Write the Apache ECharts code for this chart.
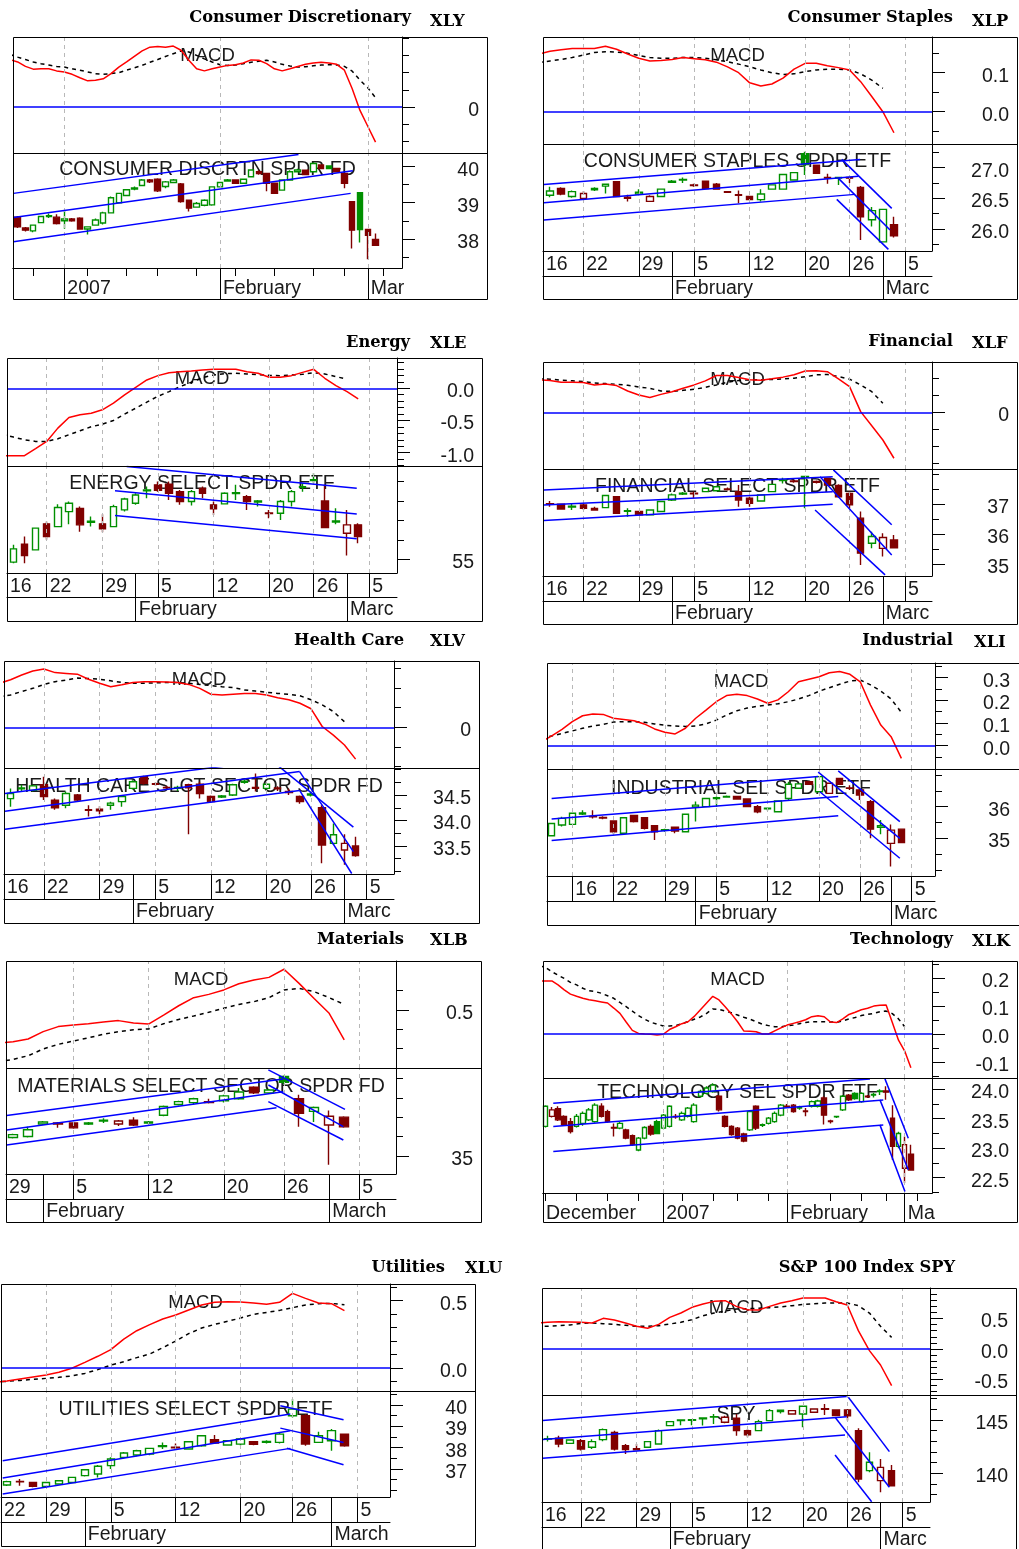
<!DOCTYPE html>
<html><head><meta charset="utf-8">
<script src="https://cdn.jsdelivr.net/npm/echarts@6/dist/echarts.min.js"></script>
<style>html,body{margin:0;padding:0;background:#fff}#c{width:1019px;height:1549px}</style>
</head><body><div id="c"></div>
<script>
// ---------- trading-day categories ----------
const DATES = ['11/27','11/28','11/29','11/30','12/1','12/4','12/5','12/6','12/7','12/8','12/11','12/12','12/13','12/14','12/15','12/18','12/19','12/20','12/21','12/22','12/26','12/27','12/28','12/29','1/3','1/4','1/5','1/8','1/9','1/10','1/11','1/12','1/16','1/17','1/18','1/19','1/22','1/23','1/24','1/25','1/26','1/29','1/30','1/31','2/1','2/2','2/5','2/6','2/7','2/8','2/9','2/12','2/13','2/14','2/15','2/16','2/20','2/21','2/22','2/23','2/26','2/27','2/28','3/1','3/2','3/5','3/6','3/7','3/8','3/9'];
const MONTH_NAMES = {12:'December', 1:'2007', 2:'February', 3:'March'};
const DAY_TICKS = ['1/16','1/22','1/29','2/5','2/12','2/20','2/26','3/5'];
const MONTH_TICKS = ['2/1','3/1'];
const XLY_WEEK_TICKS = ['12/26','1/8','1/16','1/22','1/29','2/5','2/12','2/20','2/26','3/5'];
const XLY_MONTH_TICKS = ['1/3','2/1','3/1'];
const XLK_WEEK_TICKS = ['12/4','12/11','12/18','12/26','1/8','1/16','1/22','1/29','2/12','2/20','2/26','3/5'];
const XLK_MONTH_TICKS = ['12/1','1/3','2/1','3/1'];

// ---------- XLY ----------
const XLY_FIRST = '12/21', XLY_LINE_FIRST = '12/20';
const XLY_CANDLES = [[38.60,38.33,38.30,38.63],[38.30,38.24,38.20,38.33],[38.22,38.38,38.18,38.40],[38.45,38.62,38.43,38.64],[38.64,38.62,38.58,38.70],[38.60,38.42,38.40,38.68],[38.50,38.55,38.28,38.80],[38.55,38.50,38.47,38.58],[38.57,38.27,38.25,38.60],[38.27,38.33,38.12,38.35],[38.38,38.52,38.36,38.56],[38.44,38.72,38.40,38.75],[38.72,39.14,38.70,39.17],[39.00,39.26,38.98,39.28],[39.20,39.36,39.18,39.38],[39.38,39.41,39.35,39.45],[39.48,39.63,39.46,39.66],[39.63,39.58,39.55,39.66],[39.65,39.33,39.30,39.68],[39.45,39.58,39.40,39.60],[39.56,39.63,39.55,39.66],[39.52,39.03,39.00,39.55],[39.07,38.85,38.76,39.09],[38.88,38.98,38.86,39.02],[38.93,39.07,38.90,39.10],[38.94,39.44,38.92,39.46],[39.44,39.56,39.42,39.58],[39.60,39.63,39.58,39.66],[39.63,39.54,39.52,39.65],[39.54,39.65,39.52,39.67],[39.72,39.91,39.70,39.93],[39.86,39.81,39.78,39.90],[39.81,39.54,39.32,39.83],[39.54,39.26,39.24,39.56],[39.35,39.63,39.33,39.65],[39.63,39.86,39.61,39.90],[39.86,39.91,39.84,39.94],[39.90,39.78,39.76,39.92],[39.86,40.09,39.84,40.12],[40.05,39.95,39.93,40.07],[40.02,39.95,39.93,40.04],[39.95,39.86,39.84,39.97],[39.81,39.54,39.40,39.83],[39.03,38.24,37.73,39.05],[39.28,38.26,37.90,39.30],[38.26,38.10,37.43,38.28],[37.98,37.82,37.80,38.15]];
const XLY_MACD = [0.138,0.131,0.118,0.110,0.111,0.111,0.105,0.102,0.095,0.085,0.076,0.078,0.082,0.097,0.116,0.131,0.147,0.163,0.174,0.176,0.174,0.177,0.165,0.136,0.111,0.105,0.111,0.116,0.121,0.123,0.128,0.137,0.136,0.126,0.111,0.105,0.111,0.118,0.124,0.128,0.130,0.128,0.124,0.107,0.053,-0.010,-0.056,-0.102];
const XLY_SIGNAL = [0.153,0.145,0.138,0.131,0.126,0.122,0.118,0.116,0.111,0.107,0.102,0.097,0.095,0.097,0.100,0.107,0.114,0.121,0.130,0.138,0.147,0.155,0.163,0.160,0.150,0.140,0.131,0.123,0.121,0.122,0.126,0.130,0.133,0.136,0.131,0.124,0.119,0.116,0.117,0.120,0.122,0.123,0.122,0.118,0.104,0.078,0.056,0.027];
const XLY_CHANNELS = [[17.45,39.26,54.1,40.34],[17.45,38.59,61.07,39.89],[17.45,37.92,60.8,39.26]];
const XLY_MACD_TICKS = [0], XLY_MACD_MINOR = [-0.1,-0.05,0.05,0.1,0.15,0.2];
const XLY_PRICE_TICKS = [38,39,40], XLY_PRICE_MINOR = [37.5,38.5,39.5];

// ---------- XLP ----------
const XLP_FIRST = '1/17', XLP_LINE_FIRST = '1/16';
const XLP_CANDLES = [[26.55,26.62,26.52,26.69],[26.66,26.57,26.55,26.68],[26.53,26.61,26.51,26.63],[26.50,26.58,26.48,26.62],[26.64,26.66,26.62,26.68],[26.70,26.73,26.58,26.74],[26.77,26.53,26.52,26.78],[26.52,26.50,26.45,26.56],[26.57,26.60,26.55,26.65],[26.45,26.53,26.44,26.55],[26.53,26.65,26.52,26.66],[26.76,26.78,26.75,26.80],[26.80,26.81,26.75,26.84],[26.72,26.71,26.69,26.74],[26.78,26.66,26.65,26.79],[26.73,26.65,26.64,26.75],[26.61,26.60,26.59,26.62],[26.56,26.55,26.42,26.63],[26.53,26.48,26.47,26.54],[26.48,26.57,26.45,26.65],[26.65,26.72,26.64,26.73],[26.65,26.89,26.64,26.90],[26.80,26.92,26.79,26.93],[27.23,27.05,26.88,27.26],[27.04,26.91,26.90,27.05],[26.84,26.83,26.74,26.90],[26.83,26.84,26.72,26.85],[26.84,26.83,26.75,26.85],[26.68,26.20,25.82,26.70],[26.15,26.30,26.04,26.36],[25.79,26.32,25.78,26.33],[26.07,25.89,25.86,26.20]];
const XLP_MACD = [0.148,0.155,0.159,0.162,0.162,0.162,0.168,0.160,0.148,0.137,0.130,0.131,0.134,0.139,0.136,0.133,0.127,0.115,0.100,0.074,0.066,0.071,0.086,0.109,0.124,0.124,0.118,0.113,0.107,0.077,0.039,0.000,-0.054];
const XLP_SIGNAL = [0.126,0.130,0.134,0.139,0.145,0.152,0.154,0.153,0.150,0.144,0.139,0.137,0.137,0.139,0.139,0.137,0.133,0.128,0.122,0.115,0.107,0.100,0.095,0.097,0.103,0.107,0.109,0.109,0.107,0.097,0.081,0.060];
const XLP_CHANNELS = [[32.45,26.726,60.95,27.136],[32.45,26.43,60.8,26.86],[32.45,26.145,60.5,26.565],[59.3,27.136,63.8,26.337],[59.0,26.826,63.65,25.984],[58.85,26.484,63.5,25.668]];
const XLP_MACD_TICKS = [0,0.1], XLP_MACD_MINOR = [-0.05,0.05,0.15];
const XLP_PRICE_TICKS = [26,26.5,27], XLP_PRICE_MINOR = [25.75,26.25,26.75,27.25];

// ---------- XLE ----------
const XLE_FIRST = '1/17', XLE_LINE_FIRST = '1/16';
const XLE_CANDLES = [[54.85,55.53,54.79,55.74],[55.77,55.19,54.79,56.17],[55.48,56.60,55.45,56.62],[56.82,56.17,56.00,56.94],[56.68,57.66,56.65,57.83],[57.45,57.88,56.80,57.97],[57.62,56.77,56.42,57.71],[56.90,56.96,56.68,57.20],[56.82,56.56,56.39,57.32],[56.68,57.71,56.65,57.80],[57.54,58.10,57.46,58.17],[57.88,58.31,57.80,58.40],[58.52,58.57,58.14,58.74],[58.83,58.55,58.48,59.00],[58.86,58.40,58.05,59.00],[58.48,57.97,57.80,58.57],[57.97,58.48,57.76,58.57],[58.65,58.40,58.14,58.74],[57.80,57.59,57.28,57.97],[57.85,58.40,57.83,58.45],[58.38,58.43,58.05,58.83],[58.22,57.97,57.54,58.31],[57.95,58.00,57.71,58.05],[57.38,57.35,57.11,57.54],[57.37,57.97,57.02,58.05],[57.97,58.48,57.71,58.57],[58.70,58.74,58.48,58.91],[59.05,59.10,58.91,59.43],[58.00,56.63,56.60,58.83],[56.92,56.97,56.80,57.62],[56.34,56.77,55.19,57.54],[56.77,56.17,55.82,56.85]];
const XLE_MACD = [-1.046,-1.046,-1.046,-0.938,-0.825,-0.619,-0.454,-0.412,-0.387,-0.335,-0.232,-0.103,0.015,0.129,0.196,0.242,0.258,0.268,0.284,0.294,0.294,0.294,0.258,0.232,0.170,0.170,0.196,0.247,0.294,0.155,0.041,-0.052,-0.165];
const XLE_SIGNAL = [-0.72,-0.758,-0.799,-0.825,-0.825,-0.784,-0.722,-0.660,-0.598,-0.557,-0.500,-0.402,-0.309,-0.216,-0.124,-0.052,0.026,0.093,0.165,0.206,0.227,0.232,0.222,0.211,0.201,0.196,0.206,0.216,0.242,0.222,0.180,0.144];
const XLE_CHANNELS = [[43.19,59.77,63.87,58.65],[42.14,58.52,63.87,57.33],[42.14,57.25,63.87,56.05]];
const XLE_MACD_TICKS = [-1,-0.5,0], XLE_MACD_MINOR = [-1.2,-1.1,-0.9,-0.8,-0.7,-0.6,-0.4,-0.3,-0.2,-0.1,0.1,0.2,0.3,0.4];
const XLE_PRICE_TICKS = [55], XLE_PRICE_MINOR = [56,57,58,59];

// ---------- XLF ----------
const XLF_FIRST = '1/17', XLF_LINE_FIRST = '1/16';
const XLF_CANDLES = [[37.01,37.00,36.91,37.10],[36.99,36.83,36.81,37.01],[36.90,36.93,36.80,37.02],[36.97,36.86,36.80,37.02],[36.80,36.85,36.79,36.91],[36.88,37.28,36.86,37.30],[37.24,36.69,36.67,37.26],[36.76,36.78,36.58,36.86],[36.75,36.64,36.62,36.77],[36.64,36.80,36.62,36.82],[36.75,37.08,36.73,37.10],[37.13,37.30,37.10,37.35],[37.33,37.36,37.30,37.40],[37.36,37.34,37.19,37.41],[37.41,37.52,37.40,37.54],[37.44,37.57,37.42,37.60],[37.50,37.48,37.45,37.55],[37.41,37.13,36.91,37.63],[37.19,37.02,36.91,37.24],[37.10,37.30,37.08,37.32],[37.41,37.65,37.39,37.67],[37.78,37.80,37.68,37.87],[37.76,37.74,37.70,37.80],[37.88,37.91,36.86,37.91],[37.75,37.72,37.68,37.78],[37.85,37.63,37.60,37.88],[37.61,37.24,37.21,37.65],[37.35,36.97,36.86,37.41],[36.53,35.37,34.98,36.75],[35.70,35.92,35.53,36.08],[35.53,35.89,35.26,36.03],[35.81,35.55,35.55,35.97]];
const XLF_MACD = [0.096,0.094,0.089,0.089,0.088,0.081,0.084,0.079,0.063,0.051,0.044,0.053,0.061,0.071,0.081,0.093,0.109,0.109,0.103,0.096,0.095,0.099,0.104,0.111,0.122,0.123,0.120,0.099,0.076,0.002,-0.040,-0.082,-0.136];
const XLF_SIGNAL = [0.099,0.098,0.095,0.093,0.091,0.087,0.085,0.083,0.080,0.075,0.071,0.063,0.062,0.065,0.068,0.074,0.081,0.089,0.094,0.096,0.096,0.097,0.099,0.101,0.105,0.111,0.112,0.106,0.098,0.081,0.061,0.027];
const XLF_CHANNELS = [[32.45,37.464,58.48,37.90],[32.45,36.967,58.48,37.408],[32.45,36.45,58.48,36.99],[58.54,38.13,63.8,36.31],[57.34,37.905,63.8,35.31],[56.89,36.80,63.2,34.65]];
const XLF_MACD_TICKS = [0], XLF_MACD_MINOR = [-0.15,-0.1,-0.05,0.05,0.1];
const XLF_PRICE_TICKS = [35,36,37], XLF_PRICE_MINOR = [35.5,36.5,37.5,38];

// ---------- XLV ----------
const XLV_FIRST = '1/17', XLV_LINE_FIRST = '1/16';
const XLV_CANDLES = [[34.43,34.53,34.27,34.63],[34.62,34.64,34.58,34.70],[34.59,34.68,34.57,34.70],[34.70,34.47,34.40,34.86],[34.40,34.25,34.21,34.43],[34.30,34.53,34.24,34.57],[34.50,34.40,34.38,34.52],[34.21,34.20,34.08,34.30],[34.22,34.19,34.12,34.28],[34.30,34.34,34.21,34.37],[34.37,34.47,34.27,34.50],[34.63,34.76,34.61,34.79],[34.86,34.73,34.70,34.88],[34.72,34.71,34.68,34.75],[34.65,34.64,34.61,34.68],[34.63,34.65,34.58,34.68],[34.70,34.64,33.73,34.72],[34.71,34.53,34.43,34.76],[34.47,34.37,34.35,34.49],[34.46,34.48,34.44,34.50],[34.50,34.70,34.48,34.72],[34.75,34.77,34.72,34.80],[34.65,34.63,34.57,34.92],[34.63,34.71,34.61,34.73],[34.64,34.62,34.58,34.67],[34.57,34.55,34.50,34.63],[34.47,34.37,34.33,34.49],[34.50,34.52,34.47,34.56],[34.25,33.52,33.16,34.30],[33.55,33.72,33.52,33.94],[33.42,33.55,33.13,33.73],[33.50,33.31,33.29,33.68]];
const XLV_MACD = [0.112,0.121,0.133,0.143,0.148,0.139,0.137,0.135,0.122,0.112,0.103,0.108,0.114,0.116,0.116,0.115,0.114,0.109,0.099,0.084,0.082,0.084,0.086,0.086,0.082,0.075,0.070,0.061,0.047,0.002,-0.020,-0.045,-0.081];
const XLV_SIGNAL = [0.078,0.082,0.091,0.099,0.109,0.116,0.120,0.125,0.124,0.122,0.118,0.114,0.112,0.112,0.113,0.114,0.114,0.112,0.109,0.106,0.103,0.101,0.095,0.092,0.089,0.086,0.084,0.080,0.070,0.057,0.040,0.014];
const XLV_CHANNELS = [[32.5,34.53,52.36,35.07],[32.5,34.18,58.97,34.96],[32.5,33.83,58.97,34.59],[57.06,35.07,63.8,33.87],[58.97,34.96,63.8,33.39],[58.97,34.59,63.65,32.96]];
const XLV_MACD_TICKS = [0], XLV_MACD_MINOR = [-0.1,-0.05,0.05,0.1,0.15];
const XLV_PRICE_TICKS = [33.5,34,34.5], XLV_PRICE_MINOR = [33,33.25,33.75,34.25,34.75,35];

// ---------- XLI ----------
const XLI_FIRST = '1/11', XLI_LINE_FIRST = '1/10';
const XLI_CANDLES = [[35.08,35.47,35.06,35.49],[35.42,35.63,35.37,35.68],[35.44,35.79,35.42,35.81],[35.77,35.80,35.74,35.89],[35.69,35.68,35.63,35.89],[35.66,35.64,35.60,35.70],[35.55,35.21,35.14,35.57],[35.16,35.65,35.14,35.67],[35.72,35.53,35.50,35.74],[35.65,35.32,35.28,35.67],[35.40,35.21,34.95,35.42],[35.25,35.27,35.21,35.30],[35.35,35.23,35.16,35.37],[35.21,35.76,35.19,35.78],[35.99,36.05,35.53,36.16],[36.00,36.26,35.98,36.28],[36.26,36.28,36.00,36.32],[36.30,36.32,36.28,36.35],[36.32,36.24,36.22,36.34],[36.24,36.00,35.98,36.26],[36.00,35.84,35.79,36.05],[35.93,35.95,35.88,35.97],[35.84,36.18,35.82,36.20],[36.26,36.71,36.21,36.79],[36.58,36.72,36.56,36.73],[36.79,36.71,36.69,36.81],[36.47,36.95,36.45,36.97],[36.42,36.74,36.40,36.76],[36.89,36.71,36.69,36.91],[36.59,36.58,36.53,36.68],[36.53,36.37,36.21,36.58],[36.16,35.29,35.00,36.21],[35.35,35.40,35.13,35.58],[34.84,35.26,34.11,35.44],[35.29,34.87,34.85,35.31]];
const XLI_MACD = [0.018,0.043,0.072,0.106,0.132,0.140,0.138,0.121,0.116,0.110,0.096,0.074,0.059,0.052,0.077,0.121,0.157,0.194,0.221,0.227,0.221,0.206,0.187,0.202,0.238,0.282,0.293,0.304,0.322,0.327,0.315,0.282,0.179,0.091,0.040,-0.056];
const XLI_SIGNAL = [0.032,0.043,0.054,0.065,0.077,0.087,0.094,0.104,0.106,0.106,0.103,0.096,0.090,0.087,0.085,0.087,0.096,0.113,0.135,0.154,0.166,0.174,0.179,0.185,0.194,0.206,0.221,0.240,0.256,0.271,0.285,0.290,0.268,0.241,0.206,0.147];
const XLI_CHANNELS = [[29.99,36.26,55.91,36.95],[29.99,35.61,57.86,36.32],[29.99,34.93,57.86,35.71],[57.86,37.13,63.85,35.53],[55.91,37.09,63.85,35.0],[56.07,36.47,63.85,34.37]];
const XLI_MACD_TICKS = [0,0.1,0.2,0.3], XLI_MACD_MINOR = [-0.05,0.05,0.15,0.25,0.35];
const XLI_PRICE_TICKS = [35,36], XLI_PRICE_MINOR = [34,34.5,35.5,36.5,37];

// ---------- XLB ----------
const XLB_FIRST = '1/30', XLB_LINE_FIRST = '1/29';
const XLB_CANDLES = [[35.19,35.22,35.18,35.23],[35.20,35.27,35.19,35.30],[35.33,35.35,35.32,35.36],[35.34,35.33,35.29,35.35],[35.34,35.29,35.28,35.35],[35.33,35.34,35.32,35.35],[35.36,35.37,35.34,35.39],[35.33,35.36,35.31,35.37],[35.37,35.32,35.31,35.40],[35.34,35.35,35.33,35.36],[35.42,35.51,35.41,35.52],[35.53,35.56,35.52,35.57],[35.55,35.59,35.53,35.60],[35.56,35.55,35.54,35.59],[35.57,35.62,35.55,35.63],[35.59,35.66,35.58,35.70],[35.71,35.65,35.64,35.72],[35.65,35.68,35.64,35.69],[35.82,35.76,35.74,35.83],[35.59,35.44,35.30,35.63],[35.46,35.50,35.35,35.51],[35.32,35.41,34.91,35.47],[35.40,35.30,35.29,35.41]];
const XLB_MACD = [0.327,0.336,0.350,0.388,0.414,0.422,0.429,0.438,0.445,0.433,0.427,0.474,0.522,0.564,0.581,0.604,0.636,0.655,0.669,0.711,0.638,0.560,0.483,0.345];
const XLB_SIGNAL = [0.232,0.244,0.263,0.298,0.322,0.339,0.356,0.374,0.388,0.398,0.402,0.429,0.451,0.469,0.488,0.509,0.529,0.543,0.564,0.604,0.612,0.595,0.564,0.529];
const XLB_CHANNELS = [[41.57,35.416,59.95,35.794],[41.57,35.268,59.95,35.663],[41.57,35.113,59.5,35.498],[58.96,35.887,64.05,35.481],[58.96,35.732,63.94,35.302],[58.96,35.56,63.94,35.165]];
const XLB_MACD_TICKS = [0.5], XLB_MACD_MINOR = [0.3,0.4,0.6];
const XLB_PRICE_TICKS = [35], XLB_PRICE_MINOR = [35.2,35.4,35.6,35.8];

// ---------- XLK ----------
const XLK_FIRST = '12/4', XLK_LINE_FIRST = '12/1';
const XLK_CANDLES = [[23.37,23.71,23.35,23.73],[23.54,23.65,23.52,23.70],[23.67,23.48,23.46,23.71],[23.54,23.40,23.38,23.56],[23.45,23.28,23.25,23.51],[23.37,23.54,23.35,23.58],[23.42,23.59,23.38,23.62],[23.48,23.65,23.46,23.68],[23.45,23.73,23.43,23.76],[23.71,23.54,23.52,23.76],[23.62,23.45,23.43,23.65],[23.35,23.34,23.20,23.42],[23.34,23.42,23.32,23.45],[23.31,23.17,23.15,23.33],[23.21,23.06,23.04,23.23],[22.97,23.17,22.95,23.19],[23.17,23.35,23.15,23.37],[23.37,23.24,23.21,23.40],[23.45,23.25,23.24,23.48],[23.34,23.56,23.32,23.58],[23.37,23.71,23.35,23.73],[23.54,23.53,23.50,23.58],[23.48,23.59,23.46,23.62],[23.54,23.68,23.52,23.70],[23.45,23.73,23.43,23.76],[23.88,23.96,23.86,23.99],[23.93,24.02,23.91,24.05],[23.96,24.07,23.94,24.10],[23.88,23.65,23.62,23.90],[23.54,23.37,23.35,23.56],[23.37,23.23,23.21,23.39],[23.34,23.17,23.15,23.36],[23.24,23.12,23.10,23.26],[23.31,23.62,23.29,23.64],[23.71,23.34,23.31,23.73],[23.39,23.40,23.36,23.42],[23.42,23.51,23.40,23.53],[23.45,23.59,23.43,23.62],[23.56,23.73,23.54,23.75],[23.71,23.70,23.68,23.75],[23.73,23.62,23.60,23.75],[23.69,23.68,23.65,23.72],[23.63,23.62,23.54,23.68],[23.71,23.79,23.69,23.81],[23.71,23.80,23.69,23.82],[23.85,23.56,23.40,23.88],[23.46,23.45,23.42,23.48],[23.53,23.54,23.51,23.55],[23.65,23.88,23.63,23.90],[23.90,23.82,23.80,23.92],[23.93,23.84,23.82,23.95],[23.79,23.93,23.77,23.95],[23.88,23.87,23.85,23.90],[23.91,23.90,23.86,23.94],[23.97,23.96,23.90,24.00],[23.97,23.95,23.82,24.05],[23.51,23.03,22.80,23.73],[23.03,23.25,23.00,23.28],[22.66,23.06,22.41,23.20],[22.90,22.63,22.62,23.06]];
const XLK_MACD = [0.190,0.190,0.190,0.176,0.158,0.143,0.135,0.128,0.123,0.119,0.115,0.111,0.093,0.074,0.043,0.013,0.002,0.0,-0.001,-0.004,-0.001,0.016,0.026,0.037,0.044,0.063,0.087,0.111,0.135,0.122,0.098,0.072,0.044,0.011,0.010,0.008,0.0,0.0,0.011,0.022,0.032,0.038,0.044,0.051,0.062,0.065,0.062,0.043,0.041,0.054,0.070,0.078,0.087,0.092,0.100,0.103,0.104,0.041,-0.022,-0.061,-0.121];
const XLK_SIGNAL = [0.245,0.238,0.223,0.211,0.199,0.185,0.176,0.164,0.155,0.152,0.146,0.137,0.128,0.113,0.098,0.082,0.066,0.053,0.042,0.035,0.029,0.029,0.030,0.037,0.044,0.053,0.061,0.074,0.090,0.088,0.082,0.076,0.068,0.060,0.053,0.044,0.035,0.030,0.026,0.026,0.029,0.032,0.037,0.041,0.044,0.044,0.044,0.043,0.042,0.047,0.054,0.059,0.066,0.070,0.074,0.080,0.082,0.073,0.054,0.026];
const XLK_CHANNELS = [[6.23,23.763,57.39,24.175],[6.23,23.367,59.54,23.819],[6.23,22.944,59.54,23.395],[59.81,24.175,63.58,23.169],[59.0,23.819,63.58,22.633],[59.0,23.395,63.04,22.266]];
const XLK_MACD_TICKS = [-0.1,0,0.1,0.2], XLK_MACD_MINOR = [-0.15,-0.05,0.05,0.15,0.25];
const XLK_PRICE_TICKS = [22.5,23,23.5,24], XLK_PRICE_MINOR = [22.25,22.75,23.25,23.75];

// ---------- XLU ----------
const XLU_FIRST = '1/24', XLU_LINE_FIRST = '1/23';
const XLU_CANDLES = [[36.25,36.41,36.20,36.45],[36.42,36.40,36.22,36.53],[36.37,36.19,36.15,36.40],[36.19,36.37,36.15,36.40],[36.30,36.45,36.28,36.47],[36.37,36.61,36.35,36.64],[36.69,36.97,36.65,37.00],[36.77,37.13,36.61,37.19],[37.16,37.47,37.00,37.55],[37.55,37.75,37.50,37.80],[37.66,37.86,37.60,37.90],[37.70,37.97,37.65,38.00],[38.06,38.10,37.94,38.25],[38.03,38.00,37.94,38.20],[37.94,38.28,37.90,38.30],[38.09,38.56,38.05,38.60],[38.38,38.22,38.18,38.60],[38.13,38.33,38.10,38.35],[38.17,38.41,38.10,38.45],[38.28,38.16,38.12,38.30],[38.26,38.30,38.20,38.35],[38.25,38.64,38.20,38.70],[39.50,39.81,39.42,40.28],[39.50,38.17,38.09,39.58],[38.25,38.56,38.22,38.75],[38.33,38.80,37.86,38.88],[38.64,38.09,38.05,38.66]];
const XLU_MACD = [-0.106,-0.097,-0.082,-0.067,-0.052,-0.032,-0.002,0.042,0.087,0.136,0.215,0.277,0.322,0.364,0.394,0.431,0.468,0.488,0.493,0.490,0.483,0.473,0.488,0.554,0.517,0.483,0.478,0.426];
const XLU_SIGNAL = [-0.104,-0.099,-0.092,-0.084,-0.077,-0.069,-0.059,-0.040,-0.012,0.022,0.047,0.077,0.104,0.151,0.200,0.255,0.297,0.324,0.347,0.371,0.399,0.413,0.428,0.448,0.468,0.478,0.480,0.470];
const XLU_CHANNELS = [[37.67,37.39,59.83,39.58],[37.67,36.58,59.83,38.80],[37.67,35.83,59.83,37.97],[59.06,39.97,63.93,39.31],[59.06,38.92,63.93,38.25],[59.57,37.98,63.93,37.20]];
const XLU_MACD_TICKS = [0,0.5], XLU_MACD_MINOR = [-0.1,0.1,0.2,0.3,0.4,0.6];
const XLU_PRICE_TICKS = [37,38,39,40], XLU_PRICE_MINOR = [36,36.5,37.5,38.5,39.5,40.5];

// ---------- SPY ----------
const SPY_FIRST = '1/17', SPY_LINE_FIRST = '1/16';
const SPY_CANDLES = [[143.20,143.25,142.97,143.53],[143.28,142.75,142.44,143.53],[142.81,143.12,142.75,143.20],[143.06,142.28,142.13,143.22],[142.44,142.97,142.28,143.20],[143.16,144.09,143.00,144.20],[143.84,142.28,142.13,144.00],[142.59,142.22,141.81,142.75],[142.30,142.20,142.13,142.75],[142.44,142.97,142.40,143.00],[142.75,144.00,142.70,144.10],[144.47,144.84,144.44,144.90],[144.94,145.00,144.50,145.00],[144.96,145.02,144.50,145.05],[145.10,145.20,144.47,145.25],[145.28,145.31,144.63,145.56],[144.78,145.25,144.70,145.40],[145.16,144.00,143.53,145.56],[144.00,143.60,143.38,144.16],[144.00,144.84,143.97,145.03],[144.94,145.88,144.90,146.03],[145.80,145.92,145.60,145.95],[145.56,145.88,145.50,145.90],[145.56,146.28,144.31,146.34],[145.72,146.03,145.65,146.10],[146.05,146.00,145.47,146.50],[145.94,145.41,145.35,146.00],[145.94,145.38,144.94,146.03],[144.00,139.47,139.16,144.22],[140.25,141.03,140.09,141.97],[139.31,140.56,138.22,141.34],[140.25,138.84,138.78,140.78]];
const SPY_MACD = [0.426,0.437,0.448,0.443,0.437,0.426,0.503,0.475,0.426,0.372,0.339,0.404,0.519,0.590,0.683,0.738,0.781,0.792,0.699,0.645,0.639,0.699,0.754,0.792,0.836,0.836,0.836,0.776,0.721,0.301,-0.027,-0.262,-0.601];
const SPY_SIGNAL = [0.372,0.372,0.383,0.393,0.421,0.426,0.415,0.404,0.388,0.372,0.372,0.383,0.410,0.437,0.481,0.546,0.590,0.623,0.656,0.661,0.667,0.678,0.689,0.710,0.732,0.743,0.754,0.754,0.754,0.710,0.590,0.372,0.191];
const SPY_CHANNELS = [[32.54,144.94,59.95,147.19],[32.54,143.16,59.95,145.31],[32.54,141.41,59.8,143.59],[60.1,147.13,63.8,142.03],[58.9,145.25,63.8,138.69],[58.9,141.72,62.2,137.34]];
const SPY_MACD_TICKS = [-0.5,0,0.5], SPY_MACD_MINOR = [-0.7,-0.6,-0.4,-0.3,-0.2,-0.1,0.1,0.2,0.3,0.4,0.6,0.7,0.8,0.9,1.0];
const SPY_PRICE_TICKS = [140,145], SPY_PRICE_MINOR = [138,139,141,142,143,144,146,147];

// ---------- layout (positions / sizes / axis ranges) ----------
const PANELS = [
 {title:'Consumer Discretionary', ticker:'XLY', name:'CONSUMER DISCRTN SPDR FD', L:13,T:37,R:487,B:299, ax:402, div:153, pb:268, drb:null,
  tx:411, ty:9, kx:430, ky:12.7, macdDy:17, nameDy:15, bw:6, xr:[17.4,67.4], mr:[-0.1337,0.2035], pr:[37.19,40.38],
  first:XLY_FIRST, lineFirst:XLY_LINE_FIRST, candles:XLY_CANDLES, macd:XLY_MACD, signal:XLY_SIGNAL, channels:XLY_CHANNELS,
  mTicks:XLY_MACD_TICKS, mMinor:XLY_MACD_MINOR, mDec:0, pTicks:XLY_PRICE_TICKS, pMinor:XLY_PRICE_MINOR, pDec:0, weeks:XLY_WEEK_TICKS, months:XLY_MONTH_TICKS},
 {title:'Consumer Staples', ticker:'XLP', name:'CONSUMER STAPLES SPDR ETF', L:543,T:37,R:1017,B:299, ax:932, div:144, pb:251, drb:276,
  tx:953, ty:9, kx:972, ky:12.7, macdDy:17, nameDy:16, bw:7, xr:[32.37,67.43], mr:[-0.0828,0.1915], pr:[25.641,27.387],
  first:XLP_FIRST, lineFirst:XLP_LINE_FIRST, candles:XLP_CANDLES, macd:XLP_MACD, signal:XLP_SIGNAL, channels:XLP_CHANNELS,
  mTicks:XLP_MACD_TICKS, mMinor:XLP_MACD_MINOR, mDec:1, pTicks:XLP_PRICE_TICKS, pMinor:XLP_PRICE_MINOR, pDec:1, days:DAY_TICKS, months:MONTH_TICKS},
 {title:'Energy', ticker:'XLE', name:'ENERGY SELECT SPDR ETF', L:7,T:358,R:482,B:621, ax:397, div:466, pb:573, drb:597,
  tx:410, ty:333.3, kx:430, ky:334.3, macdDy:18.7, nameDy:15.7, bw:7, xr:[32.43,67.49], mr:[-1.207,0.47], pr:[54.29,59.80],
  first:XLE_FIRST, lineFirst:XLE_LINE_FIRST, candles:XLE_CANDLES, macd:XLE_MACD, signal:XLE_SIGNAL, channels:XLE_CHANNELS,
  mTicks:XLE_MACD_TICKS, mMinor:XLE_MACD_MINOR, mDec:1, pTicks:XLE_PRICE_TICKS, pMinor:XLE_PRICE_MINOR, pDec:0, days:DAY_TICKS, months:MONTH_TICKS},
 {title:'Financial', ticker:'XLF', name:'FINANCIAL SELECT SPDR ETF', L:543,T:362,R:1017,B:624, ax:932, div:469, pb:576, drb:601,
  tx:953, ty:332.3, kx:972, ky:334.3, macdDy:16.3, nameDy:16, bw:7, xr:[32.37,67.43], mr:[-0.1678,0.1488], pr:[34.613,38.159],
  first:XLF_FIRST, lineFirst:XLF_LINE_FIRST, candles:XLF_CANDLES, macd:XLF_MACD, signal:XLF_SIGNAL, channels:XLF_CHANNELS,
  mTicks:XLF_MACD_TICKS, mMinor:XLF_MACD_MINOR, mDec:0, pTicks:XLF_PRICE_TICKS, pMinor:XLF_PRICE_MINOR, pDec:0, days:DAY_TICKS, months:MONTH_TICKS},
 {title:'Health Care', ticker:'XLV', name:'HEALTH CARE SLCT SECTOR SPDR FD', L:4,T:661,R:479,B:923, ax:394, div:768, pb:874, drb:899,
  tx:404, ty:631.7, kx:430, ky:632.3, macdDy:16.7, nameDy:16.3, bw:7, xr:[32.41,67.45], mr:[-0.1035,0.1685], pr:[32.95,35.03],
  first:XLV_FIRST, lineFirst:XLV_LINE_FIRST, candles:XLV_CANDLES, macd:XLV_MACD, signal:XLV_SIGNAL, channels:XLV_CHANNELS,
  mTicks:XLV_MACD_TICKS, mMinor:XLV_MACD_MINOR, mDec:0, pTicks:XLV_PRICE_TICKS, pMinor:XLV_PRICE_MINOR, pDec:1, days:DAY_TICKS, months:MONTH_TICKS},
 {title:'Industrial', ticker:'XLI', name:'INDUSTRIAL SEL SPDR ETF', L:547,T:663,R:1022,B:925, lr:1018, ax:935, div:769, pb:876, drb:901,
  tx:953, ty:631.7, kx:974, ky:633.3, macdDy:17, nameDy:17.7, bw:7, xr:[29.54,67.27], mr:[-0.1028,0.3648], pr:[33.81,37.19],
  first:XLI_FIRST, lineFirst:XLI_LINE_FIRST, candles:XLI_CANDLES, macd:XLI_MACD, signal:XLI_SIGNAL, channels:XLI_CHANNELS,
  mTicks:XLI_MACD_TICKS, mMinor:XLI_MACD_MINOR, mDec:1, pTicks:XLI_PRICE_TICKS, pMinor:XLI_PRICE_MINOR, pDec:0, days:DAY_TICKS, months:MONTH_TICKS},
 {title:'Materials', ticker:'XLB', name:'MATERIALS SELECT SECTOR SPDR FD', L:6,T:961,R:481,B:1222, ax:396, div:1068, pb:1174, drb:1199,
  tx:404, ty:931, kx:430, ky:931.7, macdDy:16.7, nameDy:16.3, bw:9, xr:[41.53,67.44], mr:[0.1995,0.7539], pr:[34.814,35.907],
  first:XLB_FIRST, lineFirst:XLB_LINE_FIRST, candles:XLB_CANDLES, macd:XLB_MACD, signal:XLB_SIGNAL, channels:XLB_CHANNELS,
  mTicks:XLB_MACD_TICKS, mMinor:XLB_MACD_MINOR, mDec:1, pTicks:XLB_PRICE_TICKS, pMinor:XLB_PRICE_MINOR, pDec:0, days:DAY_TICKS, months:MONTH_TICKS},
 {title:'Technology', ticker:'XLK', name:'TECHNOLOGY SEL SPDR ETF', L:543,T:961,R:1017,B:1222, ax:932, div:1078, pb:1193, drb:null,
  tx:953, ty:931, kx:972, ky:932.3, macdDy:17.3, nameDy:12.7, bw:5, xr:[4.57,67.41], mr:[-0.1577,0.2616], pr:[22.24,24.19],
  first:XLK_FIRST, lineFirst:XLK_LINE_FIRST, candles:XLK_CANDLES, macd:XLK_MACD, signal:XLK_SIGNAL, channels:XLK_CHANNELS,
  mTicks:XLK_MACD_TICKS, mMinor:XLK_MACD_MINOR, mDec:1, pTicks:XLK_PRICE_TICKS, pMinor:XLK_PRICE_MINOR, pDec:1, weeks:XLK_WEEK_TICKS, months:XLK_MONTH_TICKS},
 {title:'Utilities', ticker:'XLU', name:'UTILITIES SELECT SPDR ETF', L:1,T:1284,R:475,B:1546, ax:390, div:1391, pb:1497, drb:1522,
  tx:445, ty:1258.3, kx:465, ky:1259.7, macdDy:16.7, nameDy:16.3, bw:8, xr:[37.54,67.51], mr:[-0.1708,0.624], pr:[35.69,40.66],
  first:XLU_FIRST, lineFirst:XLU_LINE_FIRST, candles:XLU_CANDLES, macd:XLU_MACD, signal:XLU_SIGNAL, channels:XLU_CHANNELS,
  mTicks:XLU_MACD_TICKS, mMinor:XLU_MACD_MINOR, mDec:1, pTicks:XLU_PRICE_TICKS, pMinor:XLU_PRICE_MINOR, pDec:0, days:DAY_TICKS, months:MONTH_TICKS},
 {title:'S&P 100 Index SPY', ticker:'', name:'SPY', L:542,T:1288,R:1016,B:1552, ax:930, div:1395, pb:1502, drb:1527,
  tx:955, ty:1258.3, kx:0, ky:0, macdDy:17.7, nameDy:17.3, bw:7, xr:[32.48,67.46], mr:[-0.754,1.0], pr:[137.31,147.34],
  first:SPY_FIRST, lineFirst:SPY_LINE_FIRST, candles:SPY_CANDLES, macd:SPY_MACD, signal:SPY_SIGNAL, channels:SPY_CHANNELS,
  mTicks:SPY_MACD_TICKS, mMinor:SPY_MACD_MINOR, mDec:1, pTicks:SPY_PRICE_TICKS, pMinor:SPY_PRICE_MINOR, pDec:0, days:DAY_TICKS, months:MONTH_TICKS}
];

// ---------- build ----------
const FONT = '"Liberation Sans", Arial, sans-serif';
const SERIF = 'bold 16.3px "DejaVu Serif", serif';
const GREEN = '#009000', MAROON = '#800000', BLUE = '#0000ff', TXT = '#1a1a1a';
const LFS = 19.5;
const idx = d => DATES.indexOf(d);
const measureCtx = document.createElement('canvas').getContext('2d');
measureCtx.font = LFS + 'px "Liberation Sans"';
function fit(s, w) { while (s.length > 1 && measureCtx.measureText(s).width > w) s = s.slice(0, -1); return s; }
function lookup(list, v) { let r = list[0]; list.forEach(t => { if (t <= v + 1e-6) r = t; }); return r; }

const opt = {animation:false, backgroundColor:'#ffffff', textStyle:{fontFamily:FONT}, grid:[], xAxis:[], yAxis:[], series:[], graphic:[]};

PANELS.forEach(p => {
  const W = p.ax - p.L;
  const span = p.xr[1] - p.xr[0];
  const xpx = v => p.L + (v - p.xr[0]) / span * W;
  const inR = v => v > p.xr[0] + 1e-6 && v < p.xr[1] - 1e-6;
  const labelVals = list => { const vals = list.filter(inR); if (list.some(t => t < p.xr[0])) vals.unshift(p.xr[0]); return vals; };
  const labR = p.lr || p.R;

  const gM = opt.grid.length;
  opt.grid.push({left:p.L, top:p.T, width:W, height:p.div - p.T, containLabel:false, outerBoundsMode:'none'});
  opt.grid.push({left:p.L, top:p.div, width:W, height:p.pb - p.div, containLabel:false, outerBoundsMode:'none'});
  const gP = gM + 1;

  // x axes
  const xM = opt.xAxis.length;
  opt.xAxis.push({type:'value', gridIndex:gM, min:p.xr[0], max:p.xr[1], show:false, splitLine:{show:false}});
  const xP = opt.xAxis.length;
  const axLine = {show:true, onZero:false, lineStyle:{color:'#000', width:1}};
  const lab = {fontSize:LFS, color:TXT, fontFamily:FONT, align:'left', padding:[0,0,0,3], showMinLabel:true, showMaxLabel:true};
  const monthIdx = p.months.map(idx);
  const monthFmt = v => { const t = lookup(monthIdx, v); const m = +DATES[t].split('/')[0]; return fit(MONTH_NAMES[m], p.ax - xpx(v) + 2); };
  let dashVals;
  if (p.drb) {
    const dayIdx = p.days.map(idx);
    const tickVals = dayIdx.filter(inR).concat(monthIdx.filter(inR));
    opt.xAxis.push({type:'value', gridIndex:gP, min:p.xr[0], max:p.xr[1], position:'bottom', offset:0, splitLine:{show:false}, axisLine:axLine,
      axisTick:{show:true, customValues:tickVals, length:p.drb - p.pb, lineStyle:{color:'#000', width:1}},
      axisLabel:Object.assign({customValues:labelVals(dayIdx), margin:3.6, formatter:v => DATES[lookup(dayIdx, v)].split('/')[1]}, lab)});
    opt.xAxis.push({type:'value', gridIndex:gP, min:p.xr[0], max:p.xr[1], position:'bottom', offset:p.drb - p.pb, splitLine:{show:false}, axisLine:axLine,
      axisTick:{show:true, customValues:monthIdx.filter(inR), length:p.B - p.drb, lineStyle:{color:'#000', width:1}},
      axisLabel:Object.assign({customValues:labelVals(monthIdx), margin:3, formatter:monthFmt}, lab)});
    dashVals = dayIdx.filter(inR);
  } else {
    const weekIdx = p.weeks.map(idx);
    opt.xAxis.push({type:'value', gridIndex:gP, min:p.xr[0], max:p.xr[1], position:'bottom', offset:0, splitLine:{show:false}, axisLine:axLine,
      axisTick:{show:true, customValues:weekIdx.filter(inR), length:8, lineStyle:{color:'#000', width:1}}, axisLabel:{show:false}});
    opt.xAxis.push({type:'value', gridIndex:gP, min:p.xr[0], max:p.xr[1], position:'bottom', offset:0, splitLine:{show:false}, axisLine:axLine,
      axisTick:{show:true, customValues:monthIdx.filter(inR), length:p.B - p.pb, lineStyle:{color:'#000', width:1}},
      axisLabel:Object.assign({customValues:labelVals(monthIdx), margin:11, formatter:monthFmt}, lab)});
    dashVals = monthIdx.filter(inR);
  }

  // y axes
  const yAx = (gi, range, major, minor, dec) => {
    const i = opt.yAxis.length;
    opt.yAxis.push({type:'value', gridIndex:gi, min:range[0], max:range[1], position:'right', splitLine:{show:false},
      axisLine:{show:true, onZero:false, lineStyle:{color:'#000', width:1}},
      axisTick:{show:true, customValues:major, length:13, lineStyle:{color:'#000', width:1}},
      axisLabel:{show:true, customValues:major, formatter:v => '{v|' + Number(v).toFixed(dec) + '}', align:'right', margin:labR - 8 - p.ax,
        fontSize:LFS, color:TXT, fontFamily:FONT, showMinLabel:true, showMaxLabel:true,
        rich:{v:{fontSize:LFS, color:TXT, fontFamily:FONT, padding:[7,0,0,0]}}}});
    opt.yAxis.push({type:'value', gridIndex:gi, min:range[0], max:range[1], position:'right', splitLine:{show:false},
      axisLine:{show:false, onZero:false}, axisTick:{show:true, customValues:minor, length:7, lineStyle:{color:'#000', width:1}}, axisLabel:{show:false}});
    return i;
  };
  const yM = yAx(gM, p.mr, p.mTicks, p.mMinor, p.mDec);
  const yP = yAx(gP, p.pr, p.pTicks, p.pMinor, p.pDec);

  // dashed verticals and zero line
  const dashStyle = {color:'#b8b8b8', type:[4,4], width:1};
  const dashItems = dashVals.map(v => ({xAxis:v, lineStyle:dashStyle}));
  const zero = (p.mr[0] < 0 && p.mr[1] > 0) ? [{yAxis:0, lineStyle:{color:BLUE, type:'solid', width:1.5}}] : [];
  const markSeries = (xi, yi, y0, items) => ({type:'line', xAxisIndex:xi, yAxisIndex:yi, data:[[p.xr[0], y0]], symbol:'none', silent:true, z:1,
    lineStyle:{opacity:0}, markLine:{silent:true, animation:false, symbol:['none','none'], label:{show:false}, emphasis:{disabled:true}, lineStyle:dashStyle, data:items}});
  opt.series.push(markSeries(xM, yM, p.mr[0], dashItems.concat(zero)));
  opt.series.push(markSeries(xP, yP, p.pr[0], dashItems.slice()));

  // MACD lines
  const l0 = idx(p.lineFirst);
  opt.series.push({type:'line', xAxisIndex:xM, yAxisIndex:yM, data:p.signal.map((v, i) => [l0 + i, v]), symbol:'none', silent:true, z:3,
    lineStyle:{color:'#000', width:1.5, type:[4,4]}});
  opt.series.push({type:'line', xAxisIndex:xM, yAxisIndex:yM, data:p.macd.map((v, i) => [l0 + i, v]), symbol:'none', silent:true, z:4,
    lineStyle:{color:'#ff0000', width:1.5}});

  // candles
  const c0 = idx(p.first);
  opt.series.push({type:'candlestick', xAxisIndex:xP, yAxisIndex:yP, barWidth:p.bw, silent:true, z:2,
    data:p.candles.map((c, i) => {
      const [o, cl, lo, hi] = c;
      const prev = i > 0 ? p.candles[i - 1][1] : o;
      const col = cl >= prev ? GREEN : MAROON;
      const fill = cl > o ? '#ffffff' : col;
      return {value:[c0 + i, o, cl, lo, hi], itemStyle:{color:fill, color0:fill, borderColor:col, borderColor0:col, borderColorDoji:col, borderWidth:1.4}};
    })});

  // channel lines
  p.channels.forEach(s => {
    opt.series.push({type:'line', xAxisIndex:xP, yAxisIndex:yP, data:[[s[0], s[1]], [s[2], s[3]]], symbol:'none', silent:true, z:5,
      lineStyle:{color:BLUE, width:1.5}});
  });

  // frame and texts
  opt.graphic.push({type:'rect', silent:true, z:10, shape:{x:p.L + 0.5, y:p.T + 0.5, width:p.R - p.L, height:p.B - p.T}, style:{fill:'none', stroke:'#000', lineWidth:1}});
  opt.graphic.push({type:'line', silent:true, z:10, shape:{x1:p.L, y1:p.div + 0.5, x2:p.R, y2:p.div + 0.5}, style:{stroke:'#000', lineWidth:1}});
  const txt = (x, y, s, font, align, fill) => ({type:'text', silent:true, z:0, x:x, y:y,
    style:{text:s, font:font, fill:fill || TXT, align:align, verticalAlign:'middle', textAlign:align, textVerticalAlign:'middle'}});
  opt.graphic.push(txt(p.tx, p.ty + 9, p.title, SERIF, 'right', '#000'));
  if (p.ticker) opt.graphic.push(txt(p.kx, p.ky + 9, p.ticker, SERIF, 'left', '#000'));
  const cx = (p.L + p.ax) / 2;
  opt.graphic.push(txt(cx, p.T + p.macdDy + 2, 'MACD', '18.5px ' + FONT, 'center'));
  opt.graphic.push(txt(cx, p.div + p.nameDy + 2, p.name, LFS + 'px ' + FONT, 'center'));
});

const chart = echarts.init(document.getElementById('c'), null, {renderer:'canvas', width:1019, height:1549});
chart.setOption(opt);
</script>
</body></html>
